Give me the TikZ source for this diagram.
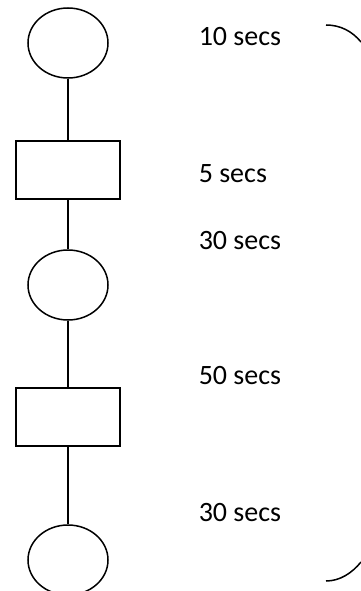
\documentclass[tikz,border=0pt]{standalone}
\usepackage{fontspec}
\setmainfont{Carlito}
\usetikzlibrary{shapes.geometric}
\begin{document}
\begin{tikzpicture}[x=1pt,y=-1pt,line width=1.5pt,
  oval/.style={draw,ellipse,minimum width=80pt,minimum height=70pt,inner sep=0pt},
  boxnode/.style={draw,rectangle,minimum width=104pt,minimum height=58pt,inner sep=0pt},
  lbl/.style={anchor=base west,inner sep=0pt,font=\fontsize{28}{32}\selectfont}]
\useasboundingbox (0,0) rectangle (361,591);
\node[oval] (e1) at (68,43) {};
\node[boxnode] (r1) at (68,170) {};
\node[oval] (e2) at (68,285) {};
\node[boxnode] (r2) at (68,417) {};
\node[oval] (e3) at (68,560) {};
\draw (e1) -- (r1);
\draw (r1) -- (e2);
\draw (e2) -- (r2);
\draw (r2) -- (e3);
\coordinate (bt0) at (326,25);
\coordinate (bt1) at (361,42);
\coordinate (bb0) at (326,581);
\coordinate (bb1) at (361,562);
\draw (bt0) .. controls (340,25) and (352,31) .. (bt1);
\draw (bb0) .. controls (340,581) and (352,573) .. (bb1);
\node[lbl] (t1) at (198,45.7) {10 secs};
\node[lbl] (t2) at (198,182) {5 secs};
\node[lbl] (t3) at (198,249) {30 secs};
\node[lbl] (t4) at (198,384) {50 secs};
\node[lbl] (t5) at (198,521) {30 secs};
\end{tikzpicture}
\end{document}
